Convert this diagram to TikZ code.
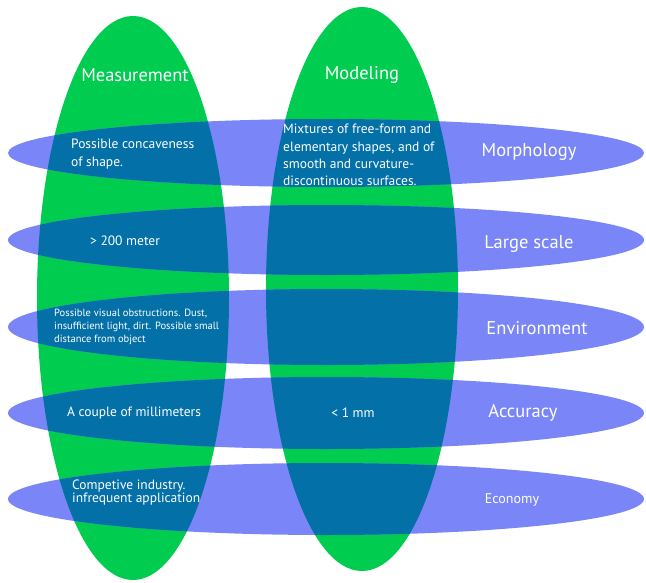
\documentclass[tikz,border=0pt]{standalone}
\usepackage{fontspec}
\setmainfont{PT Sans}
\usepackage{tikz}
\definecolor{verde}{HTML}{00CC50}
\definecolor{lilla}{HTML}{7A86F8}
\definecolor{blu}{HTML}{0470A8}

\begin{document}
\begin{tikzpicture}[x=1pt,y=-1pt,
    titolo/.style={text=white,inner sep=0pt,font=\fontsize{18.5}{20}\selectfont},
    testo/.style={text=white,inner sep=0pt,anchor=west,align=left,font=\fontsize{13.5}{17.4}\selectfont}]
  \useasboundingbox (0,0) rectangle (646,582);
  % colonne verdi
  \fill[verde] (133,298) ellipse [x radius=96pt,y radius=282pt];
  \fill[verde] (362,289) ellipse [x radius=96pt,y radius=282pt];
  % righe
  \foreach \yc/\ry in {153/34,240/35,327/38,413/36,499/36}
    \fill[lilla] (326,\yc) ellipse [x radius=318pt,y radius=\ry pt];
  % intersezioni
  \begin{scope}
    \clip (133,298) ellipse [x radius=96pt,y radius=282pt];
    \foreach \yc/\ry in {153/34,240/35,327/38,413/36,499/36}
      \fill[blu] (326,\yc) ellipse [x radius=318pt,y radius=\ry pt];
  \end{scope}
  \begin{scope}
    \clip (362,289) ellipse [x radius=96pt,y radius=282pt];
    \foreach \yc/\ry in {153/34,240/35,327/38,413/36,499/36}
      \fill[blu] (326,\yc) ellipse [x radius=318pt,y radius=\ry pt];
  \end{scope}
  % titoli
  \node[titolo] (meas) at (135,75) {Measurement};
  \node[titolo] (model) at (362,75) {Modeling};
  \node[titolo] (morph) at (529,152) {Morphology};
  \node[titolo] (scale) at (529,244) {Large scale};
  \node[titolo] (env) at (537,328) {Environment};
  \node[titolo] (acc) at (523,413) {Accuracy};
  \node[titolo,font=\fontsize{14}{16}\selectfont] (econ) at (512,500) {Economy};
  % testi
  \node[testo] (concave) at (71,154) {Possible concaveness\\of shape.};
  \node[testo] (mixt) at (283,155) {Mixtures of free-form and\\elementary shapes, and of\\smooth and curvature-\\discontinuous surfaces.};
  \node[testo,anchor=center] (meter) at (125,241) {> 200 meter};
  \node[testo,font=\fontsize{10.5}{13}\selectfont] (obstr) at (54,327) {Possible visual obstructions. Dust,\\insufficient light, dirt. Possible small\\distance from object};
  \node[testo,anchor=center] (mill) at (134,413) {A couple of millimeters};
  \node[testo,anchor=center] (mm) at (353,413) {< 1 mm};
  \node[testo,font=\fontsize{13.5}{13}\selectfont] (indus) at (72,493) {Competive industry.\\infrequent application};
\end{tikzpicture}
\end{document}
